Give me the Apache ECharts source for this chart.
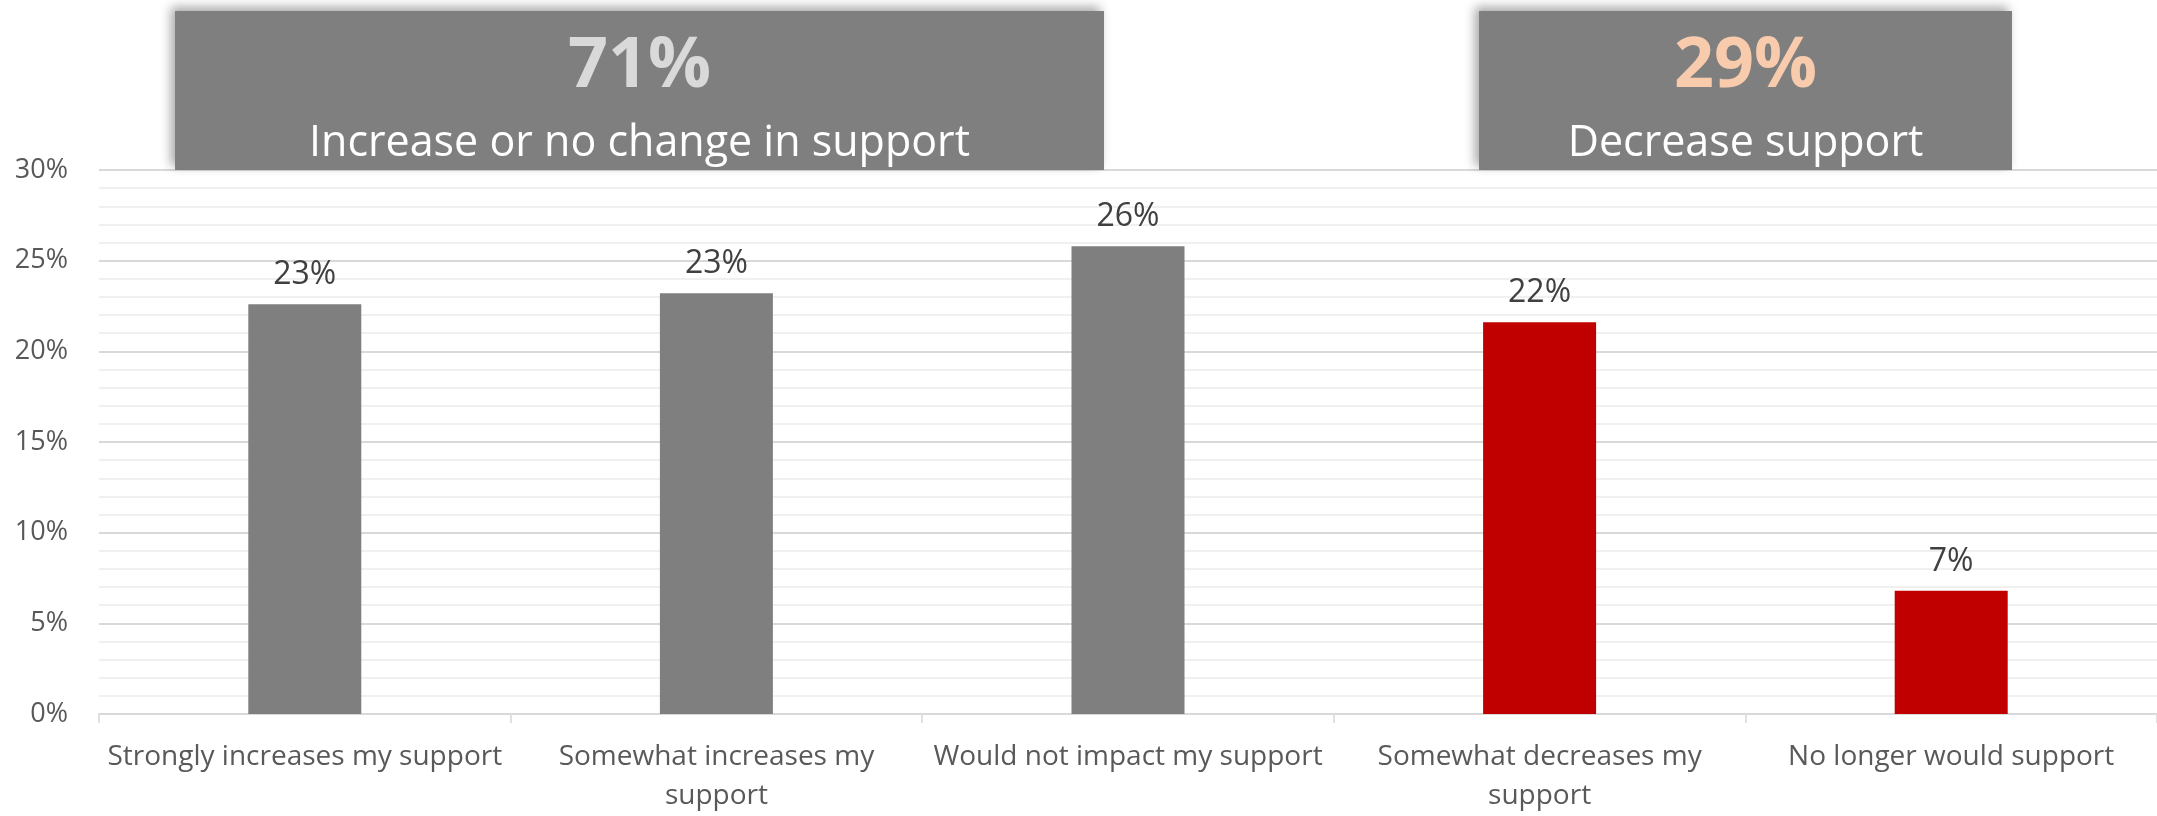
<!DOCTYPE html>
<html>
<head>
<meta charset="utf-8">
<script src="https://cdn.jsdelivr.net/npm/echarts@6/dist/echarts.min.js"></script>
<style>
  html, body { margin: 0; padding: 0; background: #ffffff; }
  #chart { width: 2157px; height: 816px; }
</style>
</head>
<body>
<div id="chart"></div>
<script>
// Survey responses: effect on support
const categories = [
  'Strongly increases my support',
  'Somewhat increases my support',
  'Would not impact my support',
  'Somewhat decreases my support',
  'No longer would support'
];
const tickLabels = [
  'Strongly increases my support',
  'Somewhat increases my\nsupport',
  'Would not impact my support',
  'Somewhat decreases my\nsupport',
  'No longer would support'
];
const shares = [22.6, 23.2, 25.8, 21.6, 6.8];
const barColors = ['#7f7f7f', '#7f7f7f', '#7f7f7f', '#c00000', '#c00000'];
const yTicks = [0, 5, 10, 15, 20, 25, 30];

// Group summary boxes
const groupTotals = ['71%', '29%'];
const groupNames = ['Increase or no change in support', 'Decrease support'];
const groupTotalColors = ['#d9d9d9', '#f8cbad'];

const FONT = '"Open Sans", "Noto Sans", sans-serif';

const chart = echarts.init(document.getElementById('chart'), null, { renderer: 'canvas' });

function summaryBox(x0, x1, total, name, totalColor) {
  const cx = (x0 + x1) / 2;
  return {
    type: 'group',
    children: [
      {
        type: 'rect',
        shape: { x: x0, y: 11, width: x1 - x0, height: 159 },
        style: {
          fill: '#7f7f7f',
          shadowColor: 'rgba(0,0,0,0.35)',
          shadowBlur: 10,
          shadowOffsetX: -4,
          shadowOffsetY: -4
        },
        z: 10
      },
      {
        type: 'text',
        x: cx, y: 67,
        style: {
          text: total, fill: totalColor, fontFamily: FONT, fontWeight: 'bold',
          fontSize: 70, align: 'center', verticalAlign: 'middle'
        },
        z: 11
      },
      {
        type: 'text',
        x: cx, y: 144,
        style: {
          text: name, fill: '#ffffff', fontFamily: FONT,
          fontSize: 43, align: 'center', verticalAlign: 'middle'
        },
        z: 11
      }
    ]
  };
}

chart.setOption({
  backgroundColor: '#ffffff',
  animation: false,
  grid: { left: 99, width: 2066, top: 170, bottom: 98, containLabel: false },
  xAxis: {
    type: 'category',
    data: categories,
    boundaryGap: true,
    axisLine: { show: true, lineStyle: { color: '#d9d9d9', width: 2 } },
    axisTick: { show: true, length: 9, lineStyle: { color: '#e0e0e0', width: 2 } },
    axisLabel: {
      interval: 0,
      margin: 24,
      color: '#595959',
      fontFamily: FONT,
      fontSize: 28,
      lineHeight: 39,
      formatter: (v, i) => tickLabels[i]
    }
  },
  yAxis: {
    type: 'value',
    min: yTicks[0],
    max: yTicks[yTicks.length - 1],
    interval: 5,
    axisLine: { show: false },
    axisTick: { show: false },
    axisLabel: {
      margin: 31,
      color: '#595959',
      fontFamily: FONT,
      fontSize: 27,
      formatter: v => v + '%'
    },
    splitLine: { show: true, lineStyle: { color: '#d9d9d9', width: 2 } },
    minorTick: { show: false, splitNumber: 5 },
    minorSplitLine: { show: true, lineStyle: { color: '#f0f0f0', width: 2 } }
  },
  series: [{
    type: 'bar',
    barWidth: 113,
    data: shares.map((v, i) => ({ value: v, itemStyle: { color: barColors[i] } })),
    label: {
      show: true,
      position: 'top',
      distance: 13,
      color: '#404040',
      fontFamily: FONT,
      fontSize: 32,
      formatter: p => Math.round(p.value) + '%'
    }
  }],
  graphic: [
    summaryBox(175, 1104, groupTotals[0], groupNames[0], groupTotalColors[0]),
    summaryBox(1479, 2012, groupTotals[1], groupNames[1], groupTotalColors[1])
  ]
});
</script>
</body>
</html>
